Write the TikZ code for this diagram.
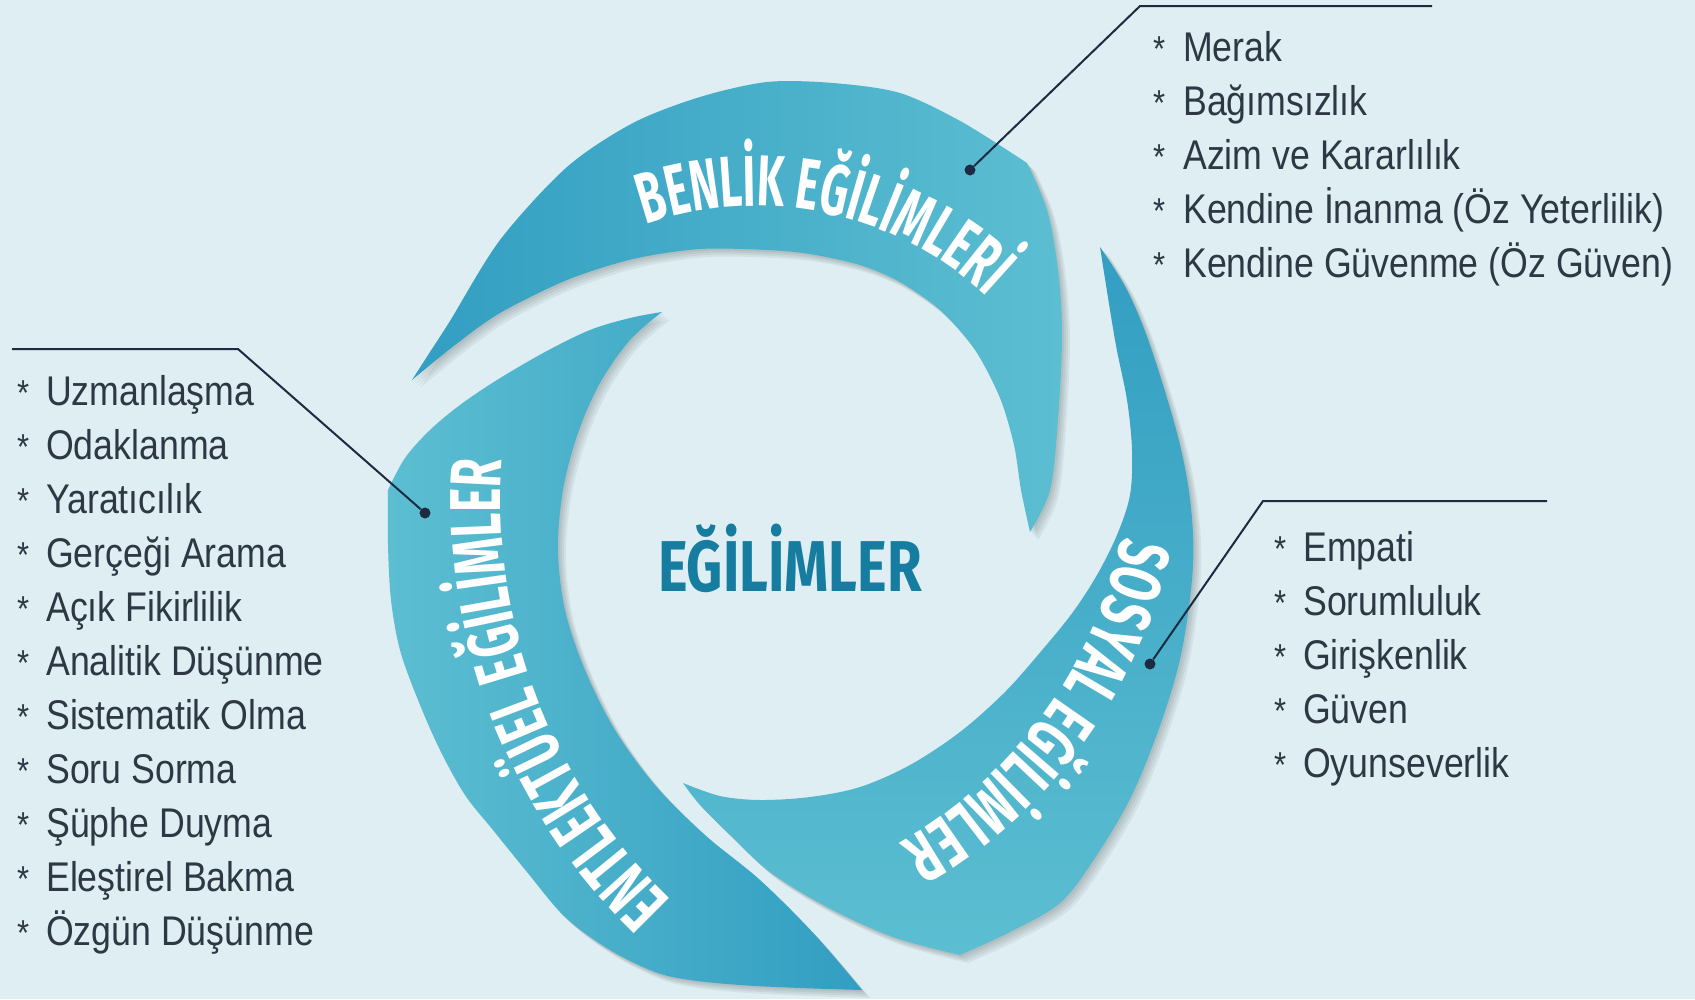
\documentclass[tikz,border=0pt]{standalone}
\usepackage{fontspec}
\usetikzlibrary{decorations.text}
\newfontfamily\listfont{Liberation Sans}[FakeStretch=0.86]
\newfontfamily\condfont{Fira Sans}[FakeStretch=0.64]
\newfontfamily\condfontB{Fira Sans}[FakeStretch=0.60]
\newfontfamily\titlefont{Fira Sans}[FakeStretch=0.78]
\newcommand\bladefont{\condfont\bfseries\fontsize{72}{72}\selectfont}
\newcommand\bladefontB{\condfontB\bfseries\fontsize{72}{72}\selectfont}
\definecolor{bgc}{RGB}{222,238,242}
\definecolor{bdark}{RGB}{50,158,194}
\definecolor{bmid}{RGB}{66,172,201}
\definecolor{blight}{RGB}{92,190,209}
\definecolor{titlec}{RGB}{22,125,160}
\definecolor{listc}{RGB}{46,56,68}
\definecolor{leadc}{RGB}{28,42,66}

\def\bladeB{plot[smooth,tension=0.5] coordinates {(412,380) (430,352) (450,321) (500,240) (567,167) (633,123) (700,97) (767,82) (833,83) (900,93) (962,122) (1027,163)}
 -- plot[smooth,tension=0.55] coordinates {(1027,163) (1047,210) (1058,270) (1062,335) (1058,420) (1050,490) (1030,532)}
 -- plot[smooth,tension=0.5] coordinates {(1030,532) (1021,490) (1014,445) (1000,398) (975,350) (940,310) (900,282) (860,265) (810,254) (767,250) (700,249) (633,259) (567,280) (500,313) (455,345) (412,380)} -- cycle}

\def\bladeS{plot[smooth,tension=0.55] coordinates {(1100,247) (1127,290) (1150,345) (1177,433) (1190,499) (1193,566) (1182,650) (1162,720) (1132,795) (1095,858) (1060,903) (1010,932) (960,955)}
 -- plot[smooth,tension=0.55] coordinates {(960,955) (893,937) (827,907) (770,872) (730,835) (700,805) (683,783)}
 -- plot[smooth,tension=0.55] coordinates {(683,783) (720,796) (760,800) (810,797) (860,787) (910,765) (960,732) (1005,692) (1043,649) (1073,612) (1097,575) (1117,535) (1130,495) (1132,450) (1127,400) (1115,340) (1100,247)} -- cycle}

\def\bladeE{plot[smooth,tension=0.55] coordinates {(862,990) (800,988) (740,985) (690,980) (655,972) (610,950) (565,917) (527,872) (493,830) (465,795) (440,750) (418,700) (400,650) (391,600) (388,545) (388,490)}
 -- plot[smooth,tension=0.55] coordinates {(388,490) (405,458) (430,430) (460,405) (497,380) (545,352) (590,330) (630,318) (662,312)}
 -- plot[smooth,tension=0.55] coordinates {(662,312) (630,340) (600,383) (578,433) (563,490) (558,550) (565,610) (585,670) (615,730) (655,785) (705,835) (760,880) (815,935) (862,990)} -- cycle}

\begin{document}
\begin{tikzpicture}[x=1pt,y=-1pt,
  bladeshadow/.style={fill=black,opacity=0.05},
  leader/.style={draw=leadc,line width=2pt},
  dotnode/.style={circle,fill=leadc,inner sep=0pt,minimum size=11pt},
  listitem/.style={anchor=base west,inner sep=0pt,text=listc,font=\listfont\fontsize{41.5}{50}\selectfont},
  astk/.style={anchor=base west,inner sep=0pt,text=listc,font=\listfont\fontsize{36}{40}\selectfont},
  titletext/.style={anchor=base,inner sep=0pt,text=titlec,font=\titlefont\bfseries\fontsize{72}{72}\selectfont},
  bladelabel/.style={decorate,decoration={text along path,text align=center,text color=white,text={#1}}}
]
\fill[bgc] (0,0) rectangle (1695,999);
\useasboundingbox (0,0) rectangle (1695,999);

% shadows
\foreach \k in {2,4,6,8}{
  \fill[bladeshadow,xshift=\k pt,yshift=-\k pt] \bladeB;
  \fill[bladeshadow,xshift=\k pt,yshift=-\k pt] \bladeS;
  \fill[bladeshadow,xshift=\k pt,yshift=-\k pt] \bladeE;
}
% blades
\shade[left color=bdark,right color=blight] \bladeB;
\shade[top color=bdark,bottom color=blight] \bladeS;
\shade[left color=blight,right color=bdark] \bladeE;

% blade labels
\path[bladelabel={|\bladefontB|BENLİK EĞİLİMLERİ}] (756,544) ++(-120:338) arc[start angle=-120,end angle=-36,radius=338];
\path[bladelabel={|\bladefont|SOSYAL EĞİLİMLER}] (670,442) ++(0:462) arc[start angle=0,end angle=72,radius=462];
\path[bladelabel={|\bladefont|ENTLEKTÜEL EĞİLİMLER}] (1054,501) ++(120:553) arc[start angle=120,end angle=198,radius=553];

% title
\node[titletext] (title) at (790,591) {EĞİLİMLER};

% leaders
\node[dotnode] (dB) at (970,170) {};
\coordinate (kB) at (1140,6);
\coordinate (eB) at (1432,6);
\draw[leader] (dB) -- (kB) -- (eB);

\node[dotnode] (dE) at (425,513) {};
\coordinate (kE) at (238,349);
\coordinate (eE) at (12,349);
\draw[leader] (dE) -- (kE) -- (eE);

\node[dotnode] (dS) at (1150,664) {};
\coordinate (kS) at (1263,501);
\coordinate (eS) at (1547,501);
\draw[leader] (dS) -- (kS) -- (eS);

% lists
\foreach \t [count=\i] in {Merak,Bağımsızlık,Azim ve Kararlılık,Kendine İnanma (Öz Yeterlilik),Kendine Güvenme (Öz Güven)}{
  \node[astk] (bs\i) at (1153,{61+54*(\i-1)}) {*};
  \node[listitem] (b\i) at (1183,{61+54*(\i-1)}) {\t};
}
\foreach \t [count=\i] in {Uzmanlaşma,Odaklanma,Yaratıcılık,Gerçeği Arama,Açık Fikirlilik,Analitik Düşünme,Sistematik Olma,Soru Sorma,Şüphe Duyma,Eleştirel Bakma,Özgün Düşünme}{
  \node[astk] (es\i) at (17,{405+54*(\i-1)}) {*};
  \node[listitem] (e\i) at (46,{405+54*(\i-1)}) {\t};
}
\foreach \t [count=\i] in {Empati,Sorumluluk,Girişkenlik,Güven,Oyunseverlik}{
  \node[astk] (ss\i) at (1274,{561+54*(\i-1)}) {*};
  \node[listitem] (s\i) at (1303,{561+54*(\i-1)}) {\t};
}
\end{tikzpicture}
\end{document}
